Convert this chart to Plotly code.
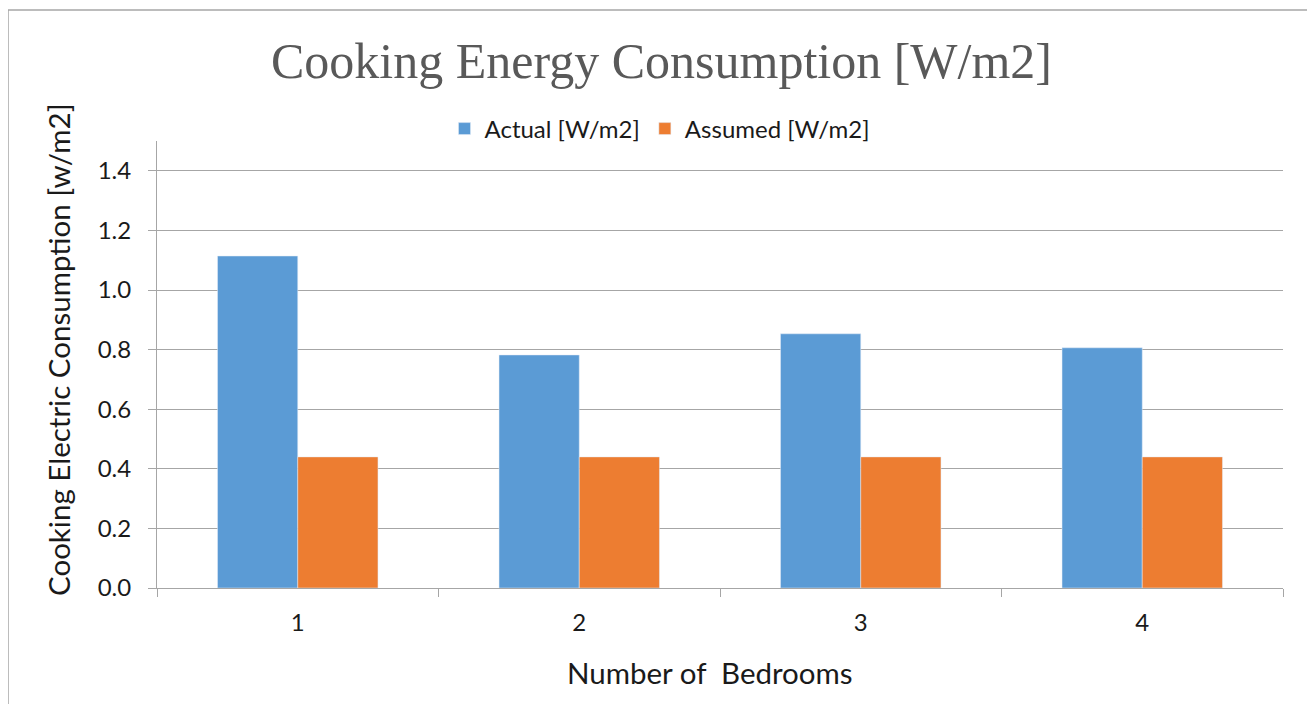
import plotly.graph_objects as go

# data
bedrooms = ["1", "2", "3", "4"]
actual = [1.114, 0.782, 0.853, 0.806]
assumed = [0.44, 0.44, 0.44, 0.44]

fig = go.Figure()
fig.add_trace(go.Bar(x=bedrooms, y=actual, name="Actual [W/m2]", marker_color="#5B9BD5"))
fig.add_trace(go.Bar(x=bedrooms, y=assumed, name="Assumed [W/m2]", marker_color="#ED7D31"))

# page body has an 8px margin, so the figure is sized to fit inside it
W, H = 1307, 696
L, R, T, B = 149, 32, 133, 116
pw, ph = W - L - R, H - T - B

fig.update_layout(
    width=W, height=H,
    margin=dict(l=L, r=R, t=T, b=B),
    paper_bgcolor="white", plot_bgcolor="white",
    barmode="group", bargap=0.43, bargroupgap=0,
    font=dict(family="Lato", size=24, color="#1a1a1a"),
    title=dict(text="Cooking Energy Consumption [W/m2]", x=0.5, xanchor="center",
               y=1 - 52 / H, yanchor="middle",
               font=dict(family="Liberation Serif", size=50, color="#595959")),
    legend=dict(orientation="h", x=(652 - L) / pw, xanchor="center",
                y=1 + 12 / ph, yanchor="middle",
                font=dict(size=24, color="#1a1a1a"), itemwidth=30, traceorder="normal"),
    showlegend=True,
)

fig.update_xaxes(type="category", showline=True, linecolor="#A6A6A6", linewidth=1,
                 ticks="outside", tickson="boundaries", ticklen=8, tickcolor="#A6A6A6",
                 showgrid=False, ticklabelstandoff=13, tickfont=dict(size=24))
fig.update_yaxes(range=[0, 1.5], dtick=0.2, tickformat=".1f", showline=True,
                 linecolor="#A6A6A6", linewidth=1, ticks="outside", ticklen=8,
                 tickcolor="#A6A6A6", showgrid=True, gridcolor="#A6A6A6", gridwidth=1,
                 zeroline=False, ticklabelstandoff=12, tickfont=dict(size=24))

# axis titles placed like the reference (centred on the chart, not the plot area)
fig.add_annotation(text="Number of  Bedrooms", xref="paper", yref="paper",
                   x=(702 - L) / pw, y=-(664 - T - ph) / ph, xanchor="center", yanchor="middle",
                   showarrow=False, font=dict(size=29.5, color="#1a1a1a"))
fig.add_annotation(text="Cooking Electric Consumption [w/m2]", xref="paper", yref="paper",
                   x=(50 - L) / pw, y=1 - (342 - T) / ph, xanchor="center", yanchor="middle",
                   textangle=-90, showarrow=False, font=dict(size=29.5, color="#1a1a1a"))

# chart frame
fig.add_shape(type="rect", xref="paper", yref="paper",
              x0=-L / pw, x1=(1306 - L) / pw, y0=-0.4, y1=(ph + T - 2) / ph,
              line=dict(color="#A6A6A6", width=1.5), fillcolor="rgba(0,0,0,0)", layer="below")

fig.write_html("out.html")
